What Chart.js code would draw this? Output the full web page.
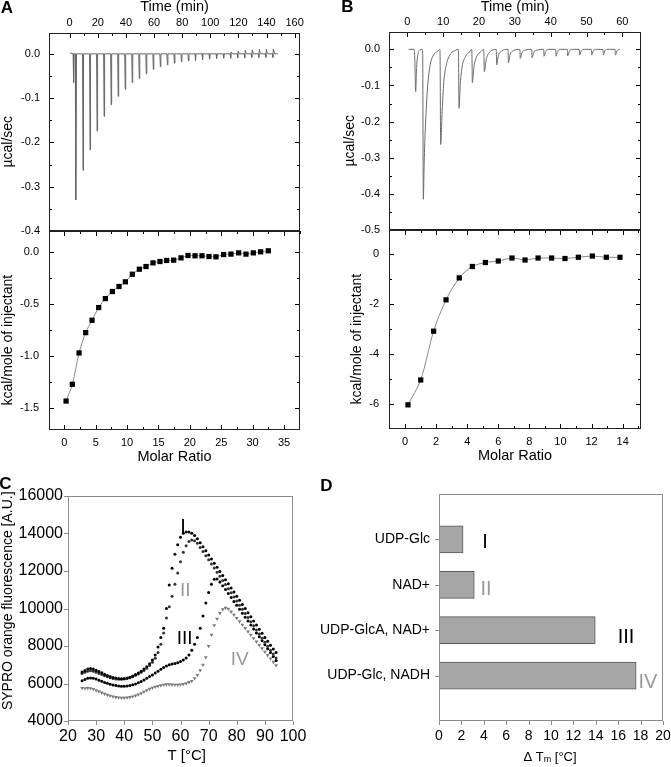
<!DOCTYPE html>
<html><head><meta charset="utf-8">
<script src="https://cdn.jsdelivr.net/npm/chart.js@4.4.1/dist/chart.umd.min.js"></script>
<style>
html,body{margin:0;padding:0;background:#fff;}
#wrap{position:relative;width:671px;height:767px;overflow:hidden;background:#fff;}
canvas{position:absolute;}
</style></head><body><div id="wrap">
<canvas id="aTop" width="320" height="245" style="left:0px;top:0px"></canvas>
<canvas id="aBot" width="320" height="250" style="left:0px;top:221px"></canvas>
<canvas id="bTop" width="320" height="245" style="left:340px;top:0px"></canvas>
<canvas id="bBot" width="320" height="250" style="left:340px;top:220px"></canvas>
<canvas id="cPlot" width="330" height="297" style="left:0px;top:470px"></canvas>
<canvas id="dPlot" width="361" height="297" style="left:310px;top:470px"></canvas>
</div>
<script>
// ================= DATA =================
// Panel A, raw ITC trace: injection times (min), peak heat rate (µcal/s), small overshoot
const aSpikeTime = [2.8, 4.5, 9.5, 14.5, 19.5, 24.5, 29.5, 34.5, 39.5, 44.5, 49.5, 54.5, 59.5, 64.5, 69.5,
  74.5, 79.5, 84.5, 89.5, 94.5, 99.5, 104.5, 109.5, 114.5, 119.5, 124.5, 129.5, 134.5, 139.5, 144.5];
const aSpikeDepth = [-0.065, -0.33, -0.263, -0.217, -0.174, -0.141, -0.115, -0.096, -0.080, -0.065, -0.056,
  -0.045, -0.035, -0.029, -0.025, -0.021, -0.018, -0.016, -0.015, -0.0135, -0.012, -0.0105, -0.010, -0.010,
  -0.009, -0.009, -0.008, -0.008, -0.008, -0.008];
const aSpikeOvershoot = [0, 0, 0, 0, 0, 0, 0, 0, 0, 0, 0, 0, 0, 0, 0, 0, 0, 0, 0, 0, 0, 0, 0,
  0.004, 0.006, 0.008, 0.009, 0.010, 0.010, 0.011];
const aTraceStart = 0.2, aTraceEnd = 148;
// Panel A, integrated heats
const aMolarRatio = [0.27, 1.27, 2.34, 3.40, 4.41, 5.47, 6.53, 7.65, 8.71, 9.72, 10.83, 11.95, 13.01, 14.13,
  15.24, 16.30, 17.42, 18.59, 19.70, 20.82, 21.93, 23.05, 24.16, 25.38, 26.55, 27.77, 28.94, 30.11, 31.28, 32.5];
const aHeat = [-1.433, -1.272, -0.971, -0.776, -0.657, -0.535, -0.449, -0.381, -0.333, -0.288, -0.215, -0.167,
  -0.141, -0.106, -0.093, -0.083, -0.080, -0.058, -0.035, -0.038, -0.038, -0.045, -0.048, -0.026, -0.022,
  -0.010, -0.022, -0.010, 0.0, 0.010];

// Panel B, raw ITC trace (min, µcal/s)
const bTime = [0.4, 1.9, 2.1, 2.34, 2.6, 3.0, 3.5, 4.2,
  4.3, 4.47, 4.75, 5.1, 5.6, 6.3, 7.3, 8.5, 9.1,
  9.15, 9.31, 9.78, 10.24, 10.99, 12.2, 13.4, 14.2,
  14.3, 14.43, 14.8, 15.3, 16.3, 17.5, 17.95,
  18.05, 18.15, 18.6, 19.4, 20.6, 21.3,
  21.4, 21.5, 22.0, 22.8, 23.8, 24.8,
  24.85, 24.95, 25.4, 26.3, 28.1,
  28.15, 28.2, 28.7, 29.6, 31.4,
  31.45, 31.5, 32.0, 32.9, 34.7,
  34.75, 34.8, 35.3, 36.2, 38.05,
  38.1, 38.14, 38.6, 39.5, 41.4,
  41.45, 41.49, 41.9, 42.8, 44.65,
  44.7, 44.74, 45.2, 46.1, 48.0,
  48.05, 48.09, 48.5, 49.4, 51.35,
  51.4, 51.44, 51.9, 52.8, 54.6,
  54.65, 54.7, 55.1, 56.0, 57.95,
  58.0, 58.05, 58.5, 59.3];
const bSignal = [0, 0, -0.03, -0.117, -0.05, -0.012, -0.002, 0,
  -0.01, -0.415, -0.30, -0.205, -0.113, -0.048, -0.016, -0.005, 0,
  -0.02, -0.263, -0.159, -0.085, -0.039, -0.011, -0.003, 0,
  -0.02, -0.163, -0.094, -0.048, -0.019, -0.006, 0,
  -0.02, -0.092, -0.048, -0.019, -0.006, 0,
  -0.02, -0.062, -0.029, -0.010, -0.002, 0,
  -0.01, -0.043, -0.018, -0.005, 0,
  -0.01, -0.037, -0.014, -0.004, 0,
  -0.01, -0.025, -0.009, -0.002, 0,
  -0.008, -0.023, -0.008, -0.002, 0,
  -0.007, -0.019, -0.006, 0, 0,
  -0.007, -0.019, -0.006, 0, 0,
  -0.006, -0.018, -0.005, 0, 0,
  -0.005, -0.016, -0.004, 0, 0,
  -0.005, -0.016, -0.004, 0, 0,
  -0.005, -0.016, -0.004, 0, 0,
  -0.005, -0.016, -0.004, 0];
// Panel B, integrated heats
const bMolarRatio = [0.19, 1.01, 1.84, 2.64, 3.49, 4.33, 5.17, 6.0, 6.88, 7.72, 8.56, 9.43, 10.29, 11.15, 12.05, 12.95, 13.83];
const bHeat = [-6.05, -5.05, -3.09, -1.83, -0.95, -0.49, -0.33, -0.27, -0.15, -0.23, -0.15, -0.15, -0.17, -0.12, -0.07, -0.12, -0.12];

// Panel C, thermal shift curves (°C, A.U.)
const cTemp = [25, 26, 27, 28, 29, 30, 31, 32, 33, 34, 35, 36, 37, 38, 39, 40, 41, 42, 43, 44, 45, 46, 47, 48, 49,
  50, 51, 52, 53, 54, 55, 56, 57, 58, 59, 60, 61, 62, 63, 64, 65, 66, 67, 68, 69, 70, 71, 72, 73, 74,
  75, 76, 77, 78, 79, 80, 81, 82, 83, 84, 85, 86, 87, 88, 89, 90, 91, 92, 93, 94];
const cSeriesI = [6620, 6700, 6780, 6800, 6770, 6710, 6640, 6570, 6500, 6430, 6370, 6320, 6290, 6270, 6260,
  6270, 6300, 6340, 6400, 6480, 6560, 6660, 6770, 6900, 7050, 7250, 7520, 7950, 8450, 8950,
  10000, 11250, 12150, 12900, 13400, 13800, 14020, 14080, 14080, 14020, 13900, 13720, 13510, 13300, 13080,
  12860, 12640, 12420, 12200, 11980, 11760, 11540, 11320, 11100, 10880, 10660, 10440, 10220, 10000, 9780,
  9560, 9340, 9120, 8900, 8680, 8460, 8250, 8040, 7840, 7650];
const cSeriesII = [6530, 6600, 6660, 6680, 6650, 6600, 6540, 6480, 6420, 6360, 6310, 6270, 6240, 6230, 6230,
  6240, 6270, 6310, 6360, 6430, 6510, 6600, 6700, 6820, 6960, 7130, 7350, 7650, 8100, 8700,
  9500, 10100, 10650, 11300, 11900, 12500, 13000, 13350, 13580, 13660, 13620, 13480, 13260, 13040, 12820,
  12600, 12380, 12160, 11940, 11720, 11500, 11280, 11060, 10840, 10620, 10400, 10180, 9960, 9740, 9520,
  9300, 9080, 8860, 8640, 8420, 8200, 7990, 7780, 7570, 7360];
const cSeriesIII = [6150, 6220, 6280, 6300, 6280, 6240, 6180, 6120, 6060, 6010, 5960, 5920, 5890, 5870, 5860,
  5860, 5870, 5890, 5930, 5980, 6040, 6110, 6190, 6280, 6370, 6460, 6560, 6660, 6760, 6850,
  6930, 7000, 7040, 7070, 7110, 7170, 7250, 7360, 7520, 7780, 8100, 8450, 8950, 9600, 10300,
  10850, 11300, 11560, 11580, 11420, 11220, 11010, 10800, 10590, 10380, 10170, 9960, 9750, 9540, 9330,
  9120, 8910, 8700, 8490, 8280, 8070, 7860, 7650, 7440, 7230];
const cSeriesIV = [5760, 5740, 5750, 5740, 5700, 5640, 5580, 5510, 5450, 5390, 5340, 5300, 5270, 5250, 5240,
  5240, 5250, 5270, 5300, 5350, 5410, 5480, 5560, 5640, 5710, 5770, 5820, 5860, 5900, 5930,
  5950, 5950, 5940, 5930, 5930, 5940, 5970, 6010, 6070, 6130, 6280, 6450, 6700, 7000, 7400,
  8000, 8600, 9100, 9450, 9750, 9950, 10030, 9980, 9830, 9660, 9490, 9310, 9130, 8950, 8770,
  8590, 8410, 8230, 8050, 7870, 7690, 7510, 7330, 7150, 6970];

// Panel D, melting temperature shifts
const dCategories = ['UDP-Glc', 'NAD+', 'UDP-GlcA, NAD+', 'UDP-Glc, NADH'];
const dDeltaTm = [2.15, 3.15, 13.95, 17.6];
const romanLabels = ['I', 'II', 'III', 'IV'];

// Tick values and labels
const aTimeTicks = [0, 20, 40, 60, 80, 100, 120, 140, 160];
const aRateTicks = [0, -0.1, -0.2, -0.3, -0.4];
const aRateLabels = ['0.0', '-0.1', '-0.2', '-0.3', '-0.4'];
const aRatioTicks = [0, 5, 10, 15, 20, 25, 30, 35];
const aHeatTicks = [0, -0.5, -1.0, -1.5];
const aHeatLabels = ['0.0', '-0.5', '-1.0', '-1.5'];
const bTimeTicks = [0, 10, 20, 30, 40, 50, 60];
const bRateTicks = [0, -0.1, -0.2, -0.3, -0.4, -0.5];
const bRateLabels = ['0.0', '-0.1', '-0.2', '-0.3', '-0.4', '-0.5'];
const bRatioTicks = [0, 2, 4, 6, 8, 10, 12, 14];
const bHeatTicks = [0, -2, -4, -6];
const cTempTicks = [20, 30, 40, 50, 60, 70, 80, 90, 100];
const cFluorTicks = [4000, 6000, 8000, 10000, 12000, 14000, 16000];
const dTmTicks = [0, 2, 4, 6, 8, 10, 12, 14, 16, 18, 20];

// ================= HELPERS =================
Chart.defaults.font.family = "'Liberation Sans', Arial, sans-serif";
Chart.defaults.color = '#000';
const NB = '\u00a0';
function range(a, b, s) { const r = []; for (let v = a; v <= b + 1e-9; v += s) r.push(+v.toFixed(6)); return r; }

const deco = {
  id: 'deco',
  afterDraw(chart, args, o) {
    const ctx = chart.ctx, a = chart.chartArea;
    ctx.save();
    (o.ticks || []).forEach(t => {
      const s = chart.scales[t.axis];
      ctx.strokeStyle = t.color || '#000'; ctx.lineWidth = 1;
      ctx.beginPath();
      t.values.forEach(v => {
        const p = Math.round(s.getPixelForValue(v)) + 0.5;
        if (t.side === 'top') { ctx.moveTo(p, a.top); ctx.lineTo(p, a.top + t.len); }
        else if (t.side === 'bottom') { ctx.moveTo(p, a.bottom); ctx.lineTo(p, a.bottom - t.len); }
        else if (t.side === 'left') { ctx.moveTo(a.left, p); ctx.lineTo(a.left + t.len, p); }
        else { ctx.moveTo(a.right, p); ctx.lineTo(a.right - t.len, p); }
      });
      ctx.stroke();
    });
    if (o.frame) {
      ctx.strokeStyle = o.frame.color; ctx.lineWidth = 1;
      const L = Math.round(a.left) + 0.5, R = Math.round(a.right) - 0.5,
            T = Math.round(a.top) + 0.5, B = Math.round(a.bottom) - 0.5;
      ctx.strokeRect(L, T, R - L, B - T);
    }
    (o.texts || []).forEach(t => {
      let x = t.x, y = t.y;
      if (t.data) { x = chart.scales[t.xAxis].getPixelForValue(t.x); y = chart.scales[t.yAxis].getPixelForValue(t.y); }
      ctx.textBaseline = 'middle';
      if (t.parts) {
        let w = 0;
        t.parts.forEach(p => { ctx.font = p.font; w += ctx.measureText(p.t).width; });
        let cx = x - w / 2;
        ctx.textAlign = 'left';
        t.parts.forEach(p => { ctx.font = p.font; ctx.fillStyle = p.color || '#000'; ctx.fillText(p.t, cx, y + (p.dy || 0)); cx += ctx.measureText(p.t).width; });
      } else {
        ctx.font = t.font; ctx.fillStyle = t.color || '#000'; ctx.textAlign = t.align || 'center';
        ctx.fillText(t.text, x, y);
      }
    });
    ctx.restore();
  }
};
Chart.register(deco);

function axis(o) {
  const ax = {
    type: o.type || 'linear', position: o.pos, offset: false, bounds: 'data',
    grid: { display: false, drawTicks: false }, border: { display: false },
    ticks: { autoSkip: false, maxRotation: 0, minRotation: 0, padding: o.pad, color: '#000',
      font: { size: o.fs } },
    title: o.title ? { display: true, text: o.title, color: '#000', font: { size: o.tfs },
      padding: o.tpad || 0 } : { display: false },
    afterFit(s) {
      if (s.isHorizontal()) s.height = o.size; else s.width = o.size;
      s.paddingLeft = s.paddingRight = s.paddingTop = s.paddingBottom = 0;
    }
  };
  if (ax.type === 'linear') {
    ax.min = o.min; ax.max = o.max;
    ax.afterBuildTicks = s => { s.ticks = o.ticks.map(v => ({ value: v })); };
    ax.ticks.callback = (v, i) => (o.labels ? o.labels[i] : String(o.ticks[i]));
  }
  return ax;
}
const baseOpts = { responsive: false, animation: false, devicePixelRatio: 1, events: [],
  plugins: { legend: { display: false }, tooltip: { enabled: false } } };
function opts(extra) { return Object.assign({}, baseOpts, extra, { plugins: Object.assign({}, baseOpts.plugins, extra.plugins) }); }

// ================= PANEL A (top) =================
const aTrace = [{ x: aTraceStart, y: 0.002 }];
aSpikeTime.forEach((t, i) => {
  aTrace.push({ x: t - 0.35, y: 0 }, { x: t, y: aSpikeDepth[i] }, { x: t + 0.35, y: aSpikeOvershoot[i] }, { x: t + 1.2, y: 0 });
});
aTrace.push({ x: aTraceEnd, y: 0 });

new Chart(document.getElementById('aTop'), {
  type: 'scatter',
  data: { datasets: [{ data: aTrace, showLine: true, borderColor: '#666', borderWidth: 1, pointRadius: 0, tension: 0 }] },
  options: opts({
    layout: { padding: { left: 0, top: 0, right: 20, bottom: 14 } },
    scales: {
      x: axis({ pos: 'top', min: -14.7, max: 163.8, ticks: aTimeTicks, size: 33, pad: 3, fs: 11,
        title: 'Time (min)', tfs: 14.5, tpad: { top: -2, bottom: 0 } }),
      y: axis({ pos: 'left', min: -0.4, max: 0.047, ticks: aRateTicks, labels: aRateLabels, size: 49, pad: 9, fs: 11,
        title: 'µcal/sec' + NB.repeat(5), tfs: 14, tpad: 0 })
    },
    plugins: { deco: {
      frame: { color: '#222' },
      ticks: [
        { axis: 'x', side: 'top', values: aTimeTicks, len: 5 },
        { axis: 'x', side: 'top', values: range(10, 150, 20), len: 3 },
        { axis: 'y', side: 'left', values: aRateTicks, len: 5 },
        { axis: 'y', side: 'left', values: range(-0.35, 0, 0.1), len: 3 },
        { axis: 'y', side: 'right', values: aRateTicks, len: 5 },
        { axis: 'y', side: 'right', values: range(-0.35, 0, 0.1), len: 3 }
      ],
      texts: [{ text: 'A', x: 7, y: 8, font: 'bold 17px "Liberation Sans", Arial' }]
    } }
  })
});

// ================= PANEL A (bottom) =================
new Chart(document.getElementById('aBot'), {
  type: 'scatter',
  data: { datasets: [{ data: aMolarRatio.map((x, i) => ({ x, y: aHeat[i] })), showLine: true, tension: 0.3,
    borderColor: '#8a8a8a', borderWidth: 1, pointStyle: 'rect', pointRadius: 3.7,
    pointBackgroundColor: '#000', pointBorderColor: '#000', pointBorderWidth: 0 }] },
  options: opts({
    layout: { padding: { left: 0, top: 10, right: 20, bottom: 0 } },
    scales: {
      x: axis({ pos: 'bottom', min: -2.45, max: 37.55, ticks: aRatioTicks, size: 41, pad: 6, fs: 11,
        title: 'Molar Ratio', tfs: 14.5, tpad: { top: 0, bottom: 5 } }),
      y: axis({ pos: 'left', min: -1.711, max: 0.2, ticks: aHeatTicks, labels: aHeatLabels, size: 49, pad: 10, fs: 11,
        title: 'kcal/mole of injectant' + NB.repeat(5), tfs: 14, tpad: 0 })
    },
    plugins: { deco: {
      frame: { color: '#222' },
      ticks: [
        { axis: 'x', side: 'top', values: aRatioTicks, len: 5 },
        { axis: 'x', side: 'top', values: range(-2.5, 37.5, 5), len: 3 },
        { axis: 'x', side: 'bottom', values: aRatioTicks, len: 5 },
        { axis: 'x', side: 'bottom', values: range(2.5, 32.5, 5), len: 3 },
        { axis: 'y', side: 'left', values: aHeatTicks, len: 5 },
        { axis: 'y', side: 'left', values: [-0.25, -0.75, -1.25], len: 3 },
        { axis: 'y', side: 'right', values: aHeatTicks, len: 5 },
        { axis: 'y', side: 'right', values: [-0.25, -0.75, -1.25], len: 3 }
      ]
    } }
  })
});

// ================= PANEL B (top) =================
new Chart(document.getElementById('bTop'), {
  type: 'scatter',
  data: { datasets: [{ data: bTime.map((x, i) => ({ x, y: bSignal[i] })), showLine: true, borderColor: '#6a6a6a',
    borderWidth: 1, pointRadius: 0, cubicInterpolationMode: 'monotone' }] },
  options: opts({
    layout: { padding: { left: 0, top: 0, right: 19, bottom: 15 } },
    scales: {
      x: axis({ pos: 'top', min: -5.1, max: 65.2, ticks: bTimeTicks, size: 32, pad: 3, fs: 11,
        title: 'Time (min)', tfs: 14.5, tpad: { top: -2, bottom: 0 } }),
      y: axis({ pos: 'left', min: -0.5, max: 0.048, ticks: bRateTicks, labels: bRateLabels, size: 49, pad: 9, fs: 11,
        title: 'µcal/sec' + NB.repeat(5), tfs: 14, tpad: { top: 2, bottom: 0 } })
    },
    plugins: { deco: {
      frame: { color: '#222' },
      ticks: [
        { axis: 'x', side: 'top', values: bTimeTicks, len: 5 },
        { axis: 'x', side: 'top', values: range(-5, 65, 10), len: 3 },
        { axis: 'y', side: 'left', values: bRateTicks, len: 5 },
        { axis: 'y', side: 'left', values: range(-0.45, 0, 0.1), len: 3 },
        { axis: 'y', side: 'right', values: bRateTicks, len: 5 },
        { axis: 'y', side: 'right', values: range(-0.45, 0, 0.1), len: 3 }
      ],
      texts: [{ text: 'B', x: 7.5, y: 7, font: 'bold 17px "Liberation Sans", Arial' }]
    } }
  })
});

// ================= PANEL B (bottom) =================
new Chart(document.getElementById('bBot'), {
  type: 'scatter',
  data: { datasets: [{ data: bMolarRatio.map((x, i) => ({ x, y: bHeat[i] })), showLine: true, tension: 0.3,
    borderColor: '#8a8a8a', borderWidth: 1, pointStyle: 'rect', pointRadius: 3.7,
    pointBackgroundColor: '#000', pointBorderColor: '#000', pointBorderWidth: 0 }] },
  options: opts({
    layout: { padding: { left: 0, top: 10, right: 19, bottom: 0 } },
    scales: {
      x: axis({ pos: 'bottom', min: -1.03, max: 15.18, ticks: bRatioTicks, size: 41, pad: 6, fs: 11,
        title: 'Molar Ratio', tfs: 14.5, tpad: { top: 0, bottom: 5 } }),
      y: axis({ pos: 'left', min: -7.02, max: 0.976, ticks: bHeatTicks, size: 49, pad: 10, fs: 11,
        title: 'kcal/mole of injectant' + NB.repeat(5), tfs: 14, tpad: { top: 9, bottom: 0 } })
    },
    plugins: { deco: {
      frame: { color: '#222' },
      ticks: [
        { axis: 'x', side: 'top', values: bRatioTicks, len: 5 },
        { axis: 'x', side: 'top', values: range(-1, 15, 2), len: 3 },
        { axis: 'x', side: 'bottom', values: bRatioTicks, len: 5 },
        { axis: 'x', side: 'bottom', values: range(-1, 15, 2), len: 3 },
        { axis: 'y', side: 'left', values: bHeatTicks, len: 5 },
        { axis: 'y', side: 'left', values: [-1, -3, -5], len: 3 },
        { axis: 'y', side: 'right', values: bHeatTicks, len: 5 },
        { axis: 'y', side: 'right', values: [-1, -3, -5], len: 3 }
      ]
    } }
  })
});

// ================= PANEL C =================
const cSeries = [cSeriesI, cSeriesII, cSeriesIII, cSeriesIV];
const cStyles = [
  { c: '#000', s: 'circle', r: 1.5, rot: 0 },
  { c: '#333', s: 'circle', r: 1.5, rot: 0 },
  { c: '#000', s: 'circle', r: 1.5, rot: 0 },
  { c: '#7a7a7a', s: 'triangle', r: 2.2, rot: 180 }
];
new Chart(document.getElementById('cPlot'), {
  type: 'scatter',
  data: { datasets: cSeries.map((vals, k) => ({
    data: cTemp.map((x, i) => ({ x, y: vals[i] })), showLine: false,
    pointStyle: cStyles[k].s, pointRadius: cStyles[k].r, pointRotation: cStyles[k].rot,
    pointBackgroundColor: cStyles[k].c, pointBorderColor: cStyles[k].c, pointBorderWidth: 0
  })) },
  options: opts({
    layout: { padding: { left: 0, top: 26, right: 37, bottom: 0 } },
    scales: {
      x: axis({ pos: 'bottom', min: 20, max: 100, ticks: cTempTicks, size: 46, pad: 6, fs: 16,
        title: NB.repeat(3) + 'T [°C]', tfs: 15, tpad: { top: 0, bottom: 2 } }),
      y: axis({ pos: 'left', min: 4000, max: 16000, ticks: cFluorTicks, size: 68, pad: 5, fs: 16,
        title: NB.repeat(4) + 'SYPRO orange fluorescence [A.U.]', tfs: 14, tpad: 0 })
    },
    plugins: { deco: {
      frame: { color: '#8c8c8c' },
      ticks: [
        { axis: 'x', side: 'bottom', values: cTempTicks, len: -4, color: '#8c8c8c' },
        { axis: 'y', side: 'left', values: cFluorTicks, len: -4, color: '#8c8c8c' }
      ],
      texts: [
        { text: 'C', x: 5.5, y: 14, font: 'bold 17px "Liberation Sans", Arial' },
        { text: romanLabels[0], data: true, xAxis: 'x', yAxis: 'y', x: 60.9, y: 14347, font: '20px "Liberation Sans", Arial', color: '#000' },
        { text: romanLabels[1], data: true, xAxis: 'x', yAxis: 'y', x: 61.7, y: 10955, font: '19px "Liberation Sans", Arial', color: '#999' },
        { text: romanLabels[2], data: true, xAxis: 'x', yAxis: 'y', x: 61.5, y: 8395, font: '19px "Liberation Sans", Arial', color: '#000' },
        { text: romanLabels[3], data: true, xAxis: 'x', yAxis: 'y', x: 81.05, y: 7280, font: '19px "Liberation Sans", Arial', color: '#999' }
      ]
    } }
  })
});

// ================= PANEL D =================
const dLabels = [''].concat(dCategories, ['']);
const dValues = [null].concat(dDeltaTm, [null]);
new Chart(document.getElementById('dPlot'), {
  type: 'bar',
  data: { labels: dLabels, datasets: [{ data: dValues, backgroundColor: '#a6a6a6', borderColor: '#5a5a5a',
    borderWidth: 1, barThickness: 27 }] },
  options: opts({
    indexAxis: 'y',
    layout: { padding: { left: 0, top: 24, right: 8, bottom: 0 } },
    scales: {
      x: axis({ pos: 'bottom', min: 0, max: 20, ticks: dTmTicks, size: 46, pad: 7, fs: 14 }),
      y: axis({ type: 'category', pos: 'left', size: 129, pad: 9, fs: 14 })
    },
    plugins: { deco: {
      frame: { color: '#8c8c8c' },
      ticks: [
        { axis: 'x', side: 'bottom', values: dTmTicks, len: -4, color: '#8c8c8c' },
        { axis: 'y', side: 'left', values: [1, 2, 3, 4], len: -4, color: '#8c8c8c' }
      ],
      texts: [
        { text: 'D', x: 16.5, y: 16.5, font: 'bold 17px "Liberation Sans", Arial' },
        { parts: [ { t: 'Δ T', font: '13px "Liberation Sans", Arial' }, { t: 'm', font: '9px "Liberation Sans", Arial', dy: 3 },
                   { t: ' [°C]', font: '13px "Liberation Sans", Arial' } ], x: 240, y: 287 },
        { text: romanLabels[0], data: true, xAxis: 'x', yAxis: 'y', x: 4.1, y: 1.07, font: '20px "Liberation Sans", Arial', color: '#000' },
        { text: romanLabels[1], data: true, xAxis: 'x', yAxis: 'y', x: 4.2, y: 2.11, font: '20px "Liberation Sans", Arial', color: '#999' },
        { text: romanLabels[2], data: true, xAxis: 'x', yAxis: 'y', x: 16.7, y: 3.17, font: '20px "Liberation Sans", Arial', color: '#000' },
        { text: romanLabels[3], data: true, xAxis: 'x', yAxis: 'y', x: 18.66, y: 4.16, font: '20px "Liberation Sans", Arial', color: '#999' }
      ]
    } }
  })
});
</script>
</body></html>
